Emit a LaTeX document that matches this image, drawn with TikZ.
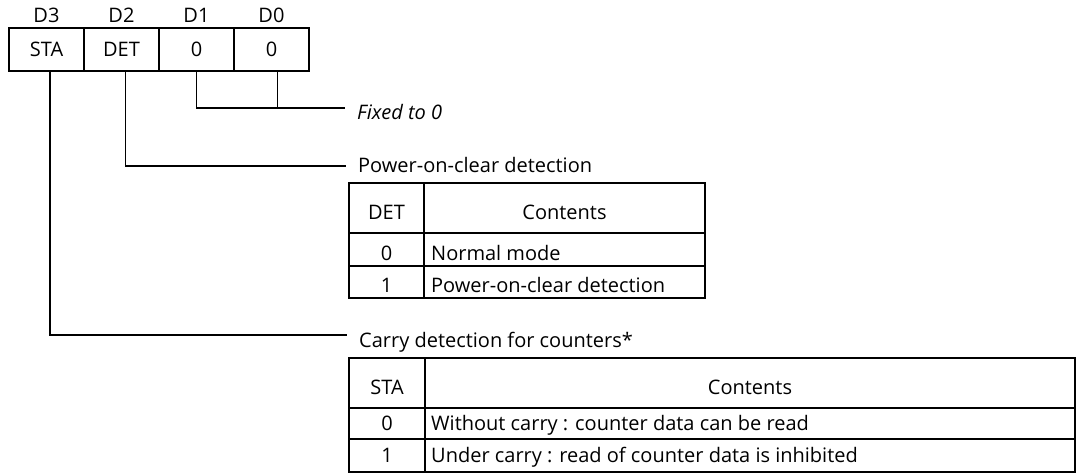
\documentclass[tikz,border=0pt]{standalone}
\usepackage{fontspec}
\setmainfont{Open Sans}
\usetikzlibrary{positioning}
\newcommand{\regfont}{\fontsize{20}{24}\selectfont}
\tikzset{
  bitcell/.style={draw, line width=1.8pt, outer sep=0pt, inner sep=0pt,
    minimum width=75pt, minimum height=43pt, font=\regfont},
  bitname/.style={inner sep=0pt, font=\regfont},
  lbl/.style={anchor=base west, inner sep=0pt, font=\regfont},
  lblit/.style={anchor=base west, inner sep=0pt, font=\regfont\itshape},
  cell/.style={anchor=base, inner sep=0pt, font=\regfont},
  celltxt/.style={anchor=base west, inner sep=0pt, font=\regfont},
  wire/.style={line width=1.6pt},
  grid/.style={line width=1.8pt}
}

\begin{document}
\begin{tikzpicture}[x=1pt, y=-1pt]
	%%%%% START %%%%%
	\useasboundingbox (0,0) rectangle (1083,474);

	% register D3..D0
	\node[bitcell] (sta) at (46.5,49.5) {STA};
	\node[bitcell, right=0pt of sta] (det) {DET};
	\node[bitcell, right=0pt of det] (d1) {0};
	\node[bitcell, right=0pt of d1] (d0) {0};

	\node[bitname, above=5pt of sta] (b3) {D3};
	\node[bitname, above=5pt of det] (b2) {D2};
	\node[bitname, above=5pt of d1] (b1) {D1};
	\node[bitname, above=5pt of d0] (b0) {D0};

	% D1, D0
	\coordinate (fixend) at (345,108);
	\draw[wire] (d1.south) |- (fixend);
	\draw[wire] ([xshift=6pt]d0.south) -- ([xshift=6pt]d0.south |- fixend);
	\node[lblit] (fixed) at (357,119) {Fixed to 0};

	% D2
	\coordinate (detend) at (346,166);
	\draw[wire] ([xshift=4pt]det.south) |- (detend);
	\node[lbl] (power) at (358,172) {Power-on-clear detection};

	\draw[grid] (349,183) rectangle (705,298);
	\draw[grid] (349,233) -- (705,233);
	\draw[grid] (349,266) -- (705,266);
	\draw[grid] (424,183) -- (424,298);
	\node[cell] (dethead) at (386.5,219) {DET};
	\node[cell] (detcont) at (564.5,219) {Contents};
	\node[cell] (detzero) at (386.5,260) {0};
	\node[celltxt] (detnorm) at (431,260) {Normal mode};
	\node[cell] (detone) at (386.5,292) {1};
	\node[celltxt] (detpoc) at (431,292) {Power-on-clear detection};

	% D3
	\coordinate (staend) at (347,335);
	\draw[wire] ([xshift=3.5pt]sta.south) |- (staend);
	\node[lbl] (carry) at (359,347) {Carry detection for counters*};

	\draw[grid] (349,358) rectangle (1075,472);
	\draw[grid] (349,408) -- (1075,408);
	\draw[grid] (349,439) -- (1075,439);
	\draw[grid] (425,358) -- (425,472);
	\node[cell] (stahead) at (387,394) {STA};
	\node[cell] (stacont) at (750,394) {Contents};
	\node[cell] (stazero) at (387,430) {0};
	\node[celltxt] (stawo) at (431,430) {Without carry : counter data can be read};
	\node[cell] (staone) at (387,462) {1};
	\node[celltxt] (staund) at (431,462) {Under carry : read of counter data is inhibited};

	%%%%% END %%%%%
\end{tikzpicture}
\end{document}
